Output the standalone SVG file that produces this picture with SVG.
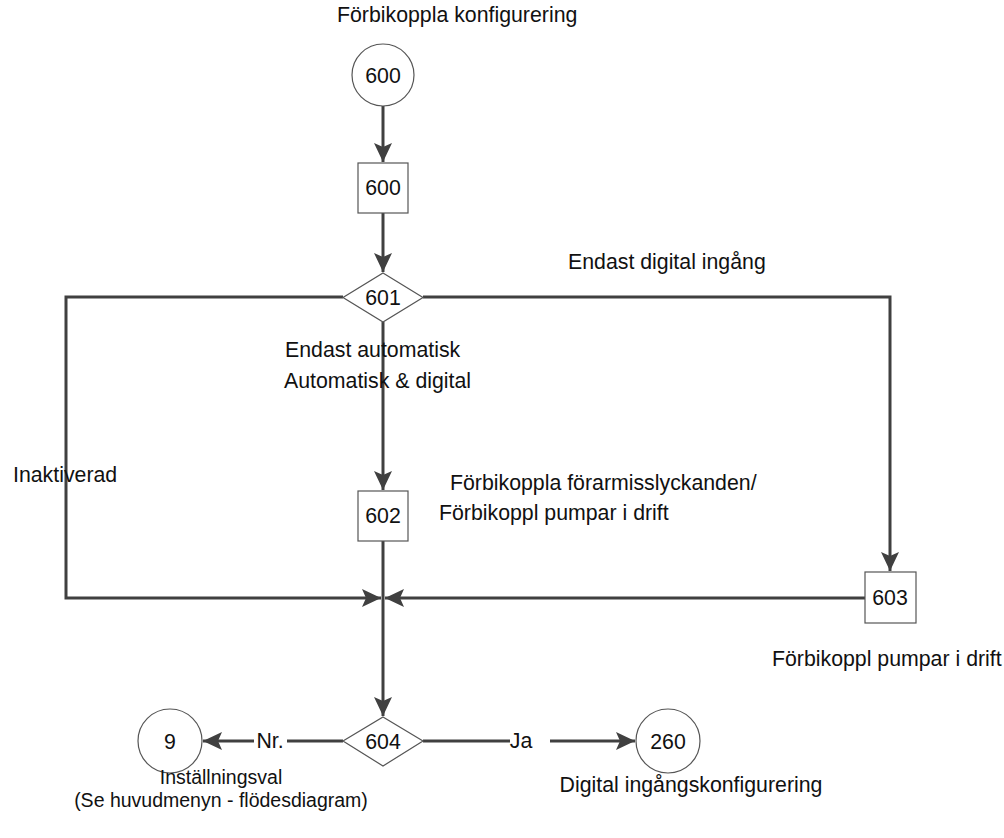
<svg xmlns="http://www.w3.org/2000/svg" width="1004" height="838" viewBox="0 0 1004 838">
<style>
text{font-family:"Liberation Sans",Arial,sans-serif;font-size:21.3px;fill:#111}
.node{fill:#fff;stroke:#555;stroke-width:1.2}
.c text,.lbl{text-anchor:middle}
.sm{font-size:19.5px}
.conn{fill:none;stroke:#404040;stroke-width:3}
</style>
<defs>
<marker id="arr" markerUnits="userSpaceOnUse" markerWidth="20" markerHeight="20" refX="19" refY="9" orient="auto" viewBox="0 0 20 18">
<path d="M0,0 L19,9 L0,18 L4,9 Z" fill="#404040"/>
</marker>
</defs>
<rect width="1004" height="838" fill="#fff"/>
<g id="connectors">
<line class="conn" x1="383" y1="106" x2="383" y2="162" marker-end="url(#arr)"/>
<line class="conn" x1="383" y1="213" x2="383" y2="272" marker-end="url(#arr)"/>
<line class="conn" x1="383" y1="322" x2="383" y2="490" marker-end="url(#arr)"/>
<polyline class="conn" points="343,297 66,297 66,598 381,598" marker-end="url(#arr)"/>
<polyline class="conn" points="423,297 890,297 890,571" marker-end="url(#arr)"/>
<line class="conn" x1="865" y1="598" x2="385" y2="598" marker-end="url(#arr)"/>
<line class="conn" x1="383" y1="541" x2="383" y2="716" marker-end="url(#arr)"/>
<line class="conn" x1="343" y1="741" x2="287" y2="741"/>
<line class="conn" x1="254" y1="741" x2="203" y2="741" marker-end="url(#arr)"/>
<line class="conn" x1="423" y1="741" x2="510" y2="741"/>
<line class="conn" x1="550" y1="741" x2="635" y2="741" marker-end="url(#arr)"/>
<text x="270" y="748" class="lbl">Nr.</text>
<text x="521" y="748" class="lbl">Ja</text>
</g>
<g id="n600c" class="c">
<circle class="node" cx="383" cy="75" r="31"/>
<text x="383" y="83">600</text>
</g>
<g id="n600" class="c">
<rect class="node" x="358" y="163" width="50" height="50"/>
<text x="383" y="195">600</text>
</g>
<g id="n601" class="c">
<polygon class="node" points="383,273 423,297.5 383,322 343,297.5"/>
<text x="383" y="305">601</text>
</g>
<g id="n602" class="c">
<rect class="node" x="358" y="491" width="50" height="50"/>
<text x="383" y="523">602</text>
</g>
<g id="n603" class="c">
<rect class="node" x="865" y="572" width="51" height="51"/>
<text x="890" y="605">603</text>
</g>
<g id="n604" class="c">
<polygon class="node" points="383,717 423,741 383,766 343,741"/>
<text x="383" y="749">604</text>
</g>
<g id="n9" class="c">
<circle class="node" cx="170" cy="741" r="32"/>
<text x="170" y="749">9</text>
</g>
<g id="n260" class="c">
<circle class="node" cx="668" cy="741" r="32"/>
<text x="668" y="749">260</text>
</g>
<g id="labels">
<text x="337" y="22">Förbikoppla konfigurering</text>
<text x="568" y="269">Endast digital ingång</text>
<text x="285" y="357">Endast automatisk</text>
<text x="284" y="388">Automatisk &amp; digital</text>
<text x="13" y="482">Inaktiverad</text>
<text x="450" y="490">Förbikoppla förarmisslyckanden/</text>
<text x="439" y="520">Förbikoppl pumpar i drift</text>
<text x="772" y="666">Förbikoppl pumpar i drift</text>
<text x="221" y="784" class="lbl sm">Inställningsval</text>
<text x="221" y="807" class="lbl sm">(Se huvudmenyn - flödesdiagram)</text>
<text x="691" y="792" class="lbl">Digital ingångskonfigurering</text>
</g>
</svg>
